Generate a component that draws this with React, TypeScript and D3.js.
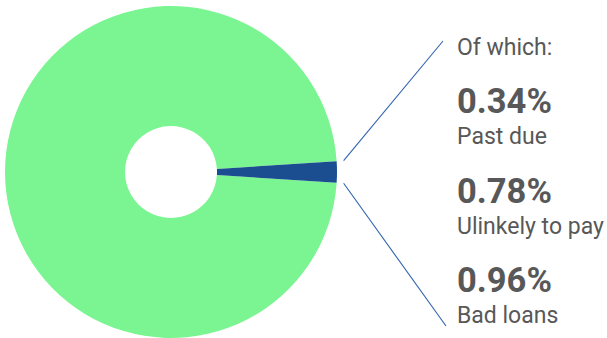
import React from "react";
import * as d3 from "d3";

const categories = ["Performing", "Non-performing"];
const shares = [97.92, 2.08];
const breakdownValues = ["0.34%", "0.78%", "0.96%"];
const breakdownLabels = ["Past due", "Ulinkely to pay", "Bad loans"];
const headerLabel = "Of which:";

const W = 607;
const H = 338;
const cx = 171;
const cy = 172;
const outerR = 166;
const innerR = 46;
const colors = ["#7AF591", "#1B4D91"];
const textColor = "#585858";
const lineColor = "#2F62AF";

export default function App() {
  const total = d3.sum(shares);
  const blueAngle = (shares[1] / total) * 2 * Math.PI;
  const start = Math.PI / 2 + blueAngle / 2;
  const pie = d3
    .pie<number>()
    .sort(null)
    .value((d) => d)
    .startAngle(start)
    .endAngle(start + 2 * Math.PI);
  const arcs = pie(shares);
  const arc = d3.arc<d3.PieArcDatum<number>>().innerRadius(innerR).outerRadius(outerR);

  const blue = arcs[1];
  const lineR = 173;
  const p = (a: number, r: number) => [cx + r * Math.sin(a), cy - r * Math.cos(a)];
  const [x1a, y1a] = p(blue.startAngle, lineR);
  const [x1b, y1b] = p(blue.endAngle, lineR);

  const textX = 457;
  const headerY = 55;
  const firstValueY = 113;
  const step = 89.5;
  const labelOffset = 31;

  return (
    <svg
      width={W}
      height={H}
      style={{ position: "absolute", left: 0, top: 0, display: "block" }}
      fontFamily="Roboto, 'Noto Sans', sans-serif"
    >
      {arcs.map((a, i) => (
        <path key={categories[i]} d={arc(a) || ""} transform={`translate(${cx},${cy})`} fill={colors[i]} />
      ))}
      <line x1={x1a} y1={y1a} x2={443} y2={41} stroke={lineColor} strokeWidth={1.1} />
      <line x1={x1b} y1={y1b} x2={446} y2={326} stroke={lineColor} strokeWidth={1.1} />
      <text x={textX} y={headerY} fontSize={23} fill={textColor}>
        {headerLabel}
      </text>
      {breakdownValues.map((v, i) => (
        <g key={v}>
          <text x={textX} y={firstValueY + i * step} fontSize={34.5} fontWeight={700} fill={textColor}>
            {v}
          </text>
          <text x={textX} y={firstValueY + i * step + labelOffset} fontSize={23} fill={textColor}>
            {breakdownLabels[i]}
          </text>
        </g>
      ))}
    </svg>
  );
}
